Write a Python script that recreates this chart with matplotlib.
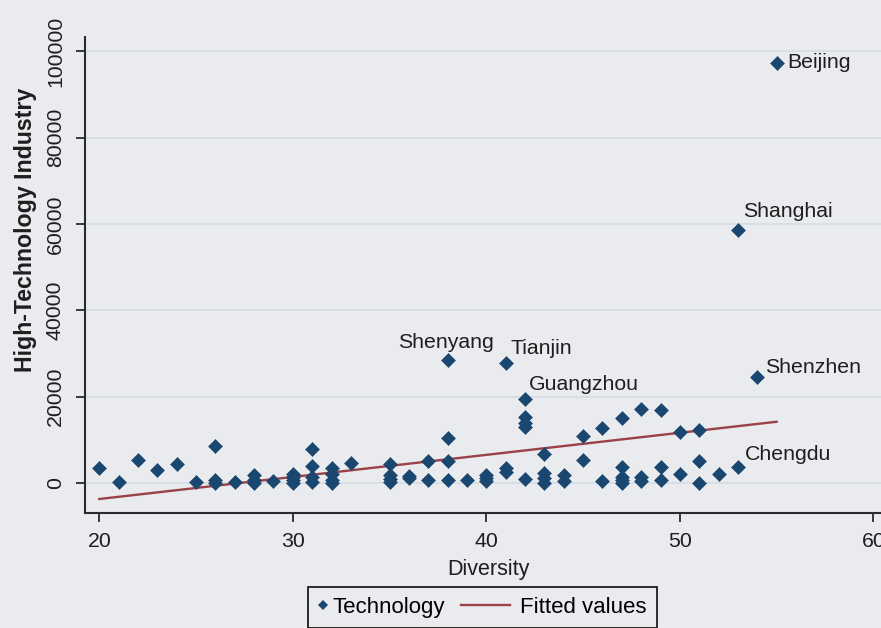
"""Scatter of high-technology industry against urban diversity for Chinese
cities, with a linear fit and the stand-out cities labelled by name."""

import matplotlib.pyplot as plt
from matplotlib.legend_handler import HandlerLine2D
from matplotlib.lines import Line2D

plt.rcParams["font.family"] = ["Liberation Sans", "DejaVu Sans"]

BG = "#e9ebee"
GRID = "#d3dbe3"
NAVY = "#1a476f"
MAROON = "#9b4148"
INK = "#1e1e1e"

# Unlabelled cities (many points overlap near zero).
diversity = [
    20, 21, 22, 23, 24, 25, 26, 26, 26, 27,
    28, 28, 28, 29, 30, 30, 30, 30, 31, 31,
    31, 31, 32, 32, 32, 32, 33, 35, 35, 35,
    35, 36, 36, 37, 37, 38, 38, 38, 39, 40,
    40, 40, 41, 41, 42, 42, 42, 42, 43, 43,
    43, 43, 44, 44, 45, 45, 46, 46, 47, 47,
    47, 47, 47, 48, 48, 48, 49, 49, 49, 50,
    50, 51, 51, 51, 52,
]
technology = [
    3400, 200, 5300, 3100, 4300, 200, 8500, 800, 100, 200,
    1800, 800, 0, 400, 2200, 1400, 700, 0, 7900, 3900,
    1400, 200, 3500, 2100, 700, 0, 4700, 4300, 1900, 900,
    200, 1700, 1100, 5000, 800, 10400, 5200, 800, 600, 1800,
    1100, 400, 3500, 2500, 15200, 14000, 12900, 1000, 6700, 2400,
    1100, 100, 1900, 400, 10800, 5300, 12700, 400, 15100, 3700,
    1500, 600, 0, 17200, 1400, 500, 17000, 3700, 600, 11800,
    2000, 12400, 5000, 100, 2000,
]

# Labelled cities.
city_names = ["Beijing", "Shanghai", "Shenzhen", "Shenyang", "Tianjin",
              "Guangzhou", "Chengdu"]
city_diversity = [55, 53, 54, 38, 41, 42, 53]
city_technology = [97300, 58600, 24600, 28500, 27800, 19500, 3700]

# Fitted values at the two ends of the observed diversity range.
fit_diversity = [20, 55]
fit_technology = [-3700, 14200]

X_TICKS = [20, 30, 40, 50, 60]
Y_TICKS = [0, 20000, 40000, 60000, 80000, 100000]

# Label placement relative to the point: (dx, dy) in points, horizontal align.
LABEL_OFFSETS = {
    "Beijing": (8.0, -3.8, "left"),
    "Shanghai": (4.0, 9.4, "left"),
    "Shenzhen": (5.8, 2.9, "left"),
    "Shenyang": (-1.5, 8.4, "center"),
    "Tianjin": (3.8, 6.5, "left"),
    "Guangzhou": (2.8, 6.7, "left"),
    "Chengdu": (5.3, 4.8, "left"),
}


class LongLineHandler(HandlerLine2D):
    """Draw the fitted-line key longer than the marker key, reaching left."""

    def get_xdata(self, legend, xdescent, ydescent, width, height, fontsize):
        xdata = [-xdescent - 2.0 * fontsize, -xdescent + width - 0.25 * fontsize]
        return xdata, [-xdescent + 0.5 * width]


fig = plt.figure(figsize=(8.81, 6.28), dpi=100, facecolor=BG)
ax = fig.add_axes([0.0965, 0.1826, 0.9168, 0.7584], facecolor=BG)

ax.plot(diversity + city_diversity, technology + city_technology,
        linestyle="none", marker="D", markersize=6.8, markeredgewidth=0.4,
        markeredgecolor=NAVY, color=NAVY, zorder=3)
ax.plot(fit_diversity, fit_technology, color=MAROON, linewidth=1.7, zorder=2)

for name, x, y in zip(city_names, city_diversity, city_technology):
    dx, dy, ha = LABEL_OFFSETS[name]
    ax.annotate(name, (x, y), xytext=(dx, dy), textcoords="offset points",
                ha=ha, va="baseline", fontsize=15.3, color=INK, zorder=4)

ax.set_xlim(19.26, 61)
ax.set_ylim(-7020, 103340)
ax.set_xticks(X_TICKS)
ax.set_yticks(Y_TICKS)
ax.set_yticklabels([str(t) for t in Y_TICKS], rotation=90, va="center")

ax.grid(axis="y", color=GRID, linewidth=1.1, zorder=0)
ax.set_axisbelow(True)
for side in ("top", "right"):
    ax.spines[side].set_visible(False)
for side in ("left", "bottom"):
    ax.spines[side].set_color("#2a2a2a")
    ax.spines[side].set_linewidth(1.5)
ax.tick_params(axis="both", direction="out", length=6.5, width=1.3,
               color="#2a2a2a", labelsize=15.3, labelcolor=INK)
ax.tick_params(axis="x", pad=7)
ax.tick_params(axis="y", pad=8)

ax.set_xlabel("Diversity", fontsize=15.5, color=INK, labelpad=6)
ax.set_ylabel("High-Technology Industry", fontsize=16.7, fontweight="bold",
              color=INK)
ax.yaxis.set_label_coords(-0.06, 0.595)

tech_key = Line2D([], [], linestyle="none", marker="D", markersize=5.5,
                  markeredgewidth=0, color=NAVY)
fit_key = Line2D([], [], color=MAROON, linewidth=1.7)
leg = fig.legend(
    [tech_key, fit_key], ["Technology", "Fitted values"],
    handler_map={fit_key: LongLineHandler()},
    loc="upper left", bbox_to_anchor=(308 / 881, 1 - 587 / 628),
    bbox_transform=fig.transFigure, borderaxespad=0, ncol=2,
    fontsize=16, handlelength=0.42, handletextpad=0.22, columnspacing=2.75,
    borderpad=0.45, fancybox=False, framealpha=1, facecolor=BG,
    edgecolor="#1e1e1e",
)
leg.get_frame().set_linewidth(1.3)

fig.savefig("out.png", dpi=100, facecolor=BG)
